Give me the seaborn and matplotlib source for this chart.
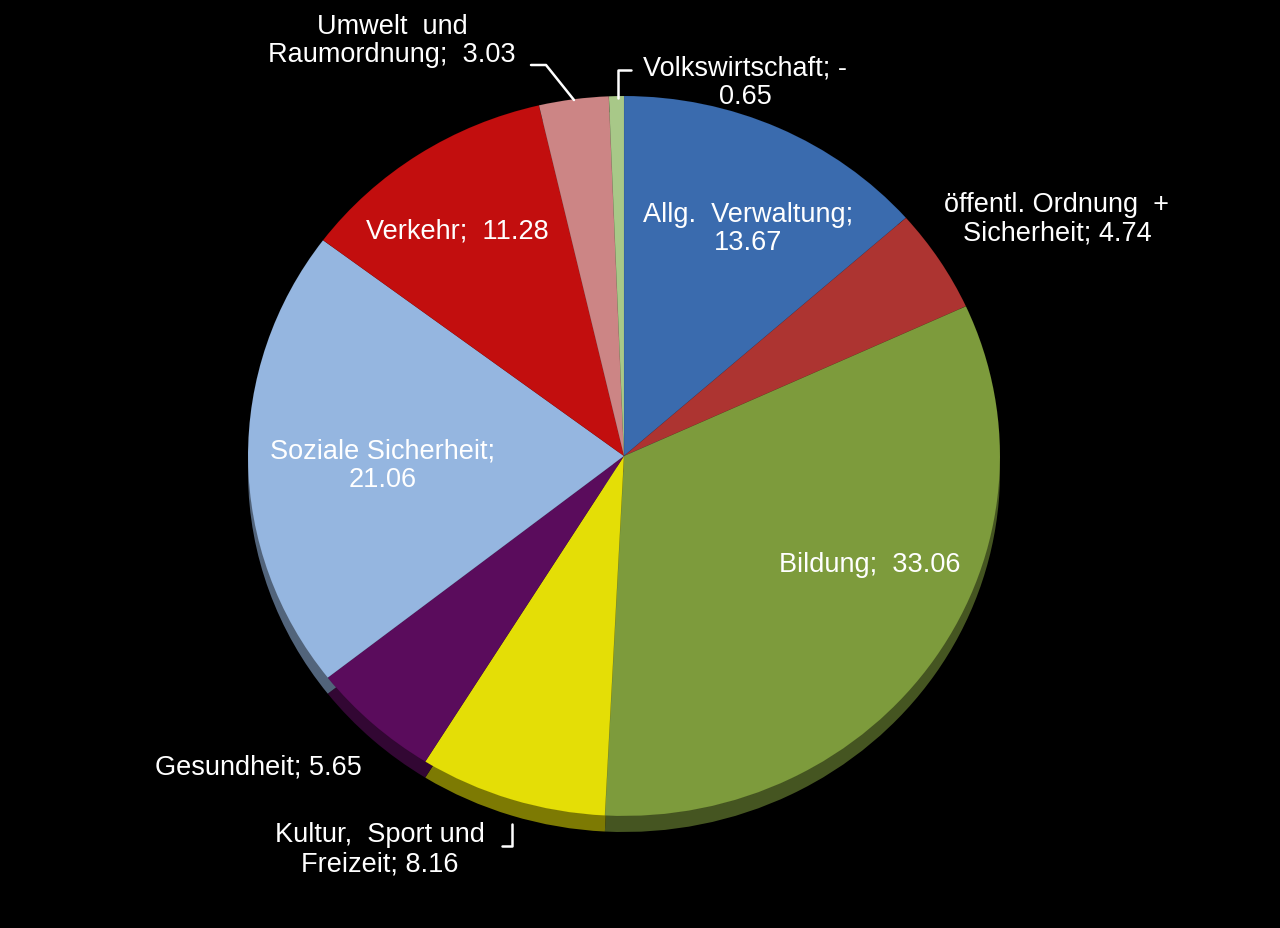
import matplotlib
matplotlib.use('Agg')
import matplotlib.pyplot as plt
import matplotlib.colors as mcolors
from matplotlib.lines import Line2D
import seaborn as sns
import numpy as np

# data (Volkswirtschaft is negative, drawn by its size)
categories = ["Allg. Verwaltung", "öffentl. Ordnung +\nSicherheit", "Bildung",
              "Kultur, Sport und\nFreizeit", "Gesundheit", "Soziale Sicherheit",
              "Verkehr", "Umwelt und\nRaumordnung", "Volkswirtschaft"]
values = [13.67, 4.74, 33.06, 8.16, 5.65, 21.06, 11.28, 3.03, -0.65]
label_texts = ["Allg.  Verwaltung;\n13.67", "öffentl. Ordnung  +\nSicherheit; 4.74",
               "Bildung;  33.06", "Kultur,  Sport und\nFreizeit; 8.16",
               "Gesundheit; 5.65", "Soziale Sicherheit;\n21.06", "Verkehr;  11.28",
               "Umwelt  und\nRaumordnung;  3.03", "Volkswirtschaft; -\n0.65"]
colors = ["#3A6BAE", "#AD3431", "#7D9B3C", "#E4DE06", "#5A0C5C",
          "#95B6E0", "#C20E0E", "#CC8585", "#A8C888"]

# label anchor points in pixels (x, y from top)
label_pos = [(748, 229), (1057, 219), (870, 565), (380, 850), (258, 768),
             (383, 466), (457, 232), (392, 41), (745, 83)]

W, H = 1280, 929
cx, cy, rx, ry = 624, 457, 376, 360
depth = 16

sns.set_theme(style="white")
plt.rcParams['font.family'] = ['Liberation Sans', 'DejaVu Sans']

fig = plt.figure(figsize=(W / 100, H / 100), dpi=100, facecolor="black")
ax = fig.add_axes([0, 0, 1, 1])
ax.set_facecolor("black")

sizes = np.abs(values)
dark = [tuple(np.array(mcolors.to_rgb(c)) * 0.55) for c in colors]

# side rim of the disc, then the top face
ax.pie(sizes, colors=dark, startangle=90, counterclock=False, radius=1,
       center=(0, -depth / ry), wedgeprops=dict(linewidth=0))
ax.pie(sizes, colors=colors, startangle=90, counterclock=False, radius=1,
       center=(0, 0), wedgeprops=dict(linewidth=0.3, edgecolor=(0, 0, 0, 0.12)))

ax.set_aspect('auto')
ax.set_xlim(-cx / rx, (W - cx) / rx)
ax.set_ylim((cy - H) / ry, cy / ry)
ax.axis('off')

for txt, (px, py) in zip(label_texts, label_pos):
    fig.text(px / W, 1 - py / H, txt, color="white", fontsize=19.5,
             ha="center", va="center", linespacing=1.15)

# leader lines for the small outside slices
leaders = [
    [(531, 66), (546, 66), (574, 101)],
    [(631, 71), (618, 71), (618, 99)],
    [(502, 847), (512, 847), (512, 825)],
]
for pts in leaders:
    xs = [p[0] / W for p in pts]
    ys = [1 - p[1] / H for p in pts]
    fig.add_artist(Line2D(xs, ys, color="white", lw=1.8, transform=fig.transFigure))

plt.savefig("out.png", dpi=100, facecolor="black")
plt.close()
